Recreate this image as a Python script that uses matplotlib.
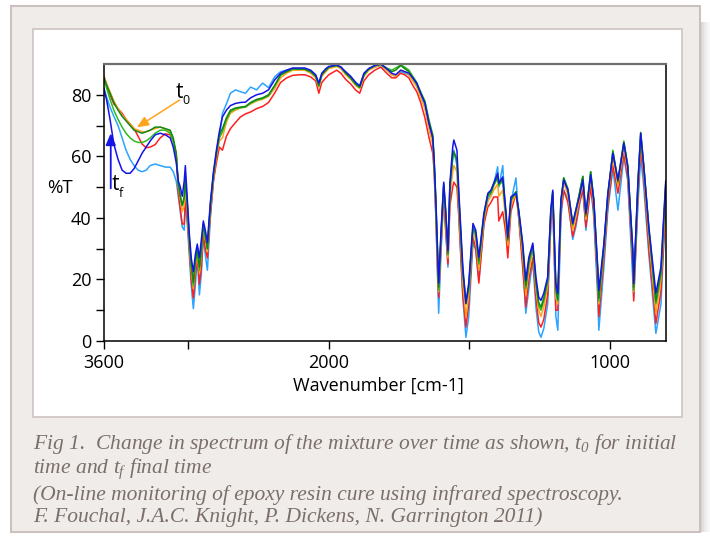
import numpy as np
import matplotlib
matplotlib.use("Agg")
import matplotlib.pyplot as plt
from matplotlib.patches import Rectangle

plt.rcParams['mathtext.fontset'] = 'custom'
plt.rcParams['mathtext.rm'] = 'Liberation Serif:italic'
plt.rcParams['mathtext.it'] = 'Liberation Serif:italic'

# ---------------- data ----------------
wavenumber = [
    3600, 3580, 3557, 3530, 3500, 3471, 3443, 3414, 3386, 3357, 3329, 3300, 3271, 3236, 3200, 3164, 3129, 3107, 3086,
    3071, 3057, 3043, 3029, 3021, 3007, 2993, 2979, 2964, 2950, 2936, 2921, 2907, 2893, 2879, 2864, 2843, 2821, 2800, 2779,
    2757, 2729, 2700, 2664, 2629, 2593, 2557, 2514, 2471, 2429, 2386, 2343, 2300, 2257, 2214, 2171, 2129, 2093, 2071, 2050,
    2021, 2000, 1972, 1957, 1940, 1922, 1904, 1890, 1875, 1858, 1836, 1815, 1794, 1776, 1762, 1744, 1730, 1715, 1701, 1687,
    1673, 1658, 1644, 1630,
    1625, 1619, 1612, 1609, 1601, 1591, 1584, 1576, 1569, 1559, 1555, 1544, 1537, 1523, 1512, 1502, 1487, 1477, 1466, 1448,
    1434, 1423, 1413, 1399, 1395, 1381, 1370, 1363, 1352, 1334, 1324, 1310, 1299, 1288, 1274, 1263, 1253, 1245, 1235, 1221,
    1210, 1203, 1192, 1185, 1174, 1164, 1149, 1132, 1121, 1108, 1096, 1085, 1068, 1057, 1043, 1039, 1021, 1007, 989, 971,
    950, 936, 918, 915, 900, 890, 879, 861, 836, 818, 801]

t_blue = [
    82, 78, 72, 64, 59, 55.5, 54.5, 54.5, 56, 58.5, 61, 63, 65, 67, 67.5, 67, 66, 63, 58,
    52, 50, 47, 52, 57, 46, 35, 27, 22.5, 28, 31.5, 27, 33, 39, 36, 32, 45, 55, 62, 68,
    72.8, 75, 76.5, 77.2, 77.5, 77.6, 79, 80, 80.5, 81.6, 84.8, 87, 88, 88.7, 88.7, 88.7, 88, 86.5, 83.8, 87,
    88.5, 89.2, 89.7, 89, 87.5, 86, 84, 82.9, 87, 88.5, 89.5, 90, 88.5, 87, 86.5, 88, 87.5, 87, 85.5, 83.8,
    80.5, 77.3, 70.8, 66,
    58.8, 45.8, 27.2, 18.8, 35, 51.6, 42.5, 29.5, 51.3, 63, 65.3, 62, 48, 24, 12.2, 18.8, 38.2, 36, 27.2, 41.5,
    48, 49, 51.3, 54.5, 51.3, 53.3, 42.5, 33.7, 46.8, 48, 42.5, 31.8, 19.7, 27.2, 31.8, 20.8, 14.2, 13.2, 15.5, 20.8,
    42.5, 49, 18.7, 15.5, 45.8, 52.3, 49, 38.2, 42.5, 47, 52.3, 41.5, 54, 45.8, 24, 16.5, 31.7, 48, 61, 52.3,
    64.3, 56.6, 29.5, 18.7, 51.3, 67.5, 56.5, 37, 15.5, 24, 52]

t_lightblue = [
    82, 79, 76, 73, 70, 66, 62, 59, 57, 55.5, 55, 55.5, 57, 57.5, 57, 56.5, 56.5, 55, 52,
    47, 42, 37, 36, 45, 38, 28, 18, 10.5, 18, 27, 15, 22, 34, 28, 23, 40, 52, 60, 66,
    74, 77, 80.5, 81.6, 81, 80.5, 82.5, 81.6, 83.8, 82.3, 85.8, 87.5, 88, 88.5, 88.5, 88.5, 87.5, 86, 83.5, 86.5,
    88, 89, 89.5, 88.5, 87, 85.5, 83.5, 82.5, 86.5, 88, 89, 89.5, 88, 86.5, 86, 87.5, 87, 86.5, 85, 83,
    79.5, 76, 69.5, 64.5,
    56, 40, 18, 9, 28, 49, 36, 24, 47, 60, 62, 57, 40, 14, 1.2, 8, 32, 29.5, 19.7, 38,
    46, 48, 51, 56.6, 50, 57, 40, 30, 45, 53, 40, 26, 9, 17, 26, 11, 3, 1.2, 4, 12,
    38, 46, 8, 3.5, 40, 49, 46, 33, 37, 44, 50, 36, 51, 40, 14, 3.5, 24, 42.5, 56, 42.5,
    60, 52, 20, 14.2, 44, 60, 50, 28, 2.5, 12, 45]

t_red = [
    86, 83, 80, 77, 75.5, 74, 72, 70.5, 69, 66.5, 64, 62.8, 63, 63.8, 66, 67.3, 67, 65, 61,
    48, 43, 38, 38, 46, 40, 30, 20, 14, 21, 28, 18.5, 24, 35, 30, 27, 41, 52, 58, 63,
    62, 66.5, 69, 71, 72.8, 73.8, 74.4, 75.5, 76.2, 77.5, 80.5, 84, 85.5, 86.3, 86.5, 86.5, 85.8, 84.5, 80.5, 84,
    85.5, 86.5, 88, 87, 85, 83.5, 81.5, 80.5, 84.5, 86.5, 88, 89, 87, 85.5, 85.5, 87, 86.5, 85.5, 83, 81,
    77.5, 72.5, 66.3, 61,
    55, 41, 20, 14.2, 30, 47, 36, 25, 44, 50, 51.6, 50, 40, 15, 4.5, 12, 33.7, 30, 18.8, 38,
    43.5, 45, 46.8, 46.8, 39, 42, 35, 27, 42, 48, 40, 24, 11, 20, 27, 14, 6, 4.5, 7, 15,
    38, 45, 10, 10, 42, 49, 45, 34, 38, 45, 49, 37, 50, 42, 18, 8, 27, 44, 57, 48,
    61, 53, 24, 13, 47, 63, 53, 30, 5.7, 16, 44]

t_orange = [
    86, 83.5, 81, 78, 75.5, 73.5, 72, 70.5, 69, 68.5, 68, 68, 68.5, 69, 69.5, 69, 68, 65, 60,
    50, 46, 42, 44, 50, 42, 32, 23, 17, 24, 29, 22, 28, 37, 33, 29, 43, 53, 60, 65,
    66, 71, 74, 75, 75.7, 76, 77, 78, 78.5, 79.5, 82, 85.5, 87, 88, 88, 88, 87, 85.5, 82.5, 86,
    87.5, 88.5, 89.2, 88.5, 86.5, 85, 83, 82, 86, 88, 89, 89.7, 88, 86.5, 86, 88, 87.5, 86.5, 84.5, 82.5,
    79, 75.5, 69, 64,
    57, 43, 23, 16, 32, 49, 39, 27, 47, 55, 57, 55, 43, 19, 8, 15, 35.5, 33, 23, 39.5,
    45.5, 47, 49, 51, 47, 49, 39, 31, 44, 48, 41, 28, 15, 23, 29.5, 17, 10, 8, 11, 18,
    40, 47, 14, 12, 44, 51.5, 47.5, 36, 40.5, 46, 51.5, 39.5, 53, 44, 21, 12, 29.5, 46.5, 59.5, 50.5,
    63, 55, 27, 16, 49.5, 65.5, 55, 34, 9, 20, 48]

t_darkgreen = [
    85.5, 83, 80.5, 77.5, 75, 73, 71.5, 70, 68.5, 68, 67.5, 68, 68.5, 69.5, 69.5, 69, 68.5, 66, 61,
    51, 47, 44, 47, 53, 44, 33, 25, 19, 26, 30, 24, 30, 38, 34, 30, 44, 54, 61, 67,
    69, 72.5, 75, 75.7, 76, 76.2, 77.5, 78.5, 79, 80, 83, 86.5, 87.5, 88.5, 88.3, 88.3, 87.5, 86, 83, 86.5,
    88, 89, 89.5, 89, 87, 85.5, 83.5, 82.5, 86.5, 88.5, 89.5, 90, 88.5, 87.5, 88, 89.5, 88.5, 87.5, 85.5, 83.5,
    80.5, 77.5, 71.5, 66.5,
    58, 45, 26, 17.5, 34, 51, 41.5, 28.5, 50.5, 60, 61.5, 59, 46, 22.5, 13, 17.5, 37, 35, 26, 41,
    47.5, 48.5, 51, 53.5, 51, 52.5, 41.5, 33, 46, 48.5, 42, 31, 18, 26, 31, 19.5, 12.5, 11, 14, 20,
    42, 48.5, 17, 13.5, 45.5, 53, 49.5, 38, 42.5, 48, 53.5, 41, 55, 46, 23, 14, 31, 47.5, 61.5, 52,
    64.5, 57, 28.5, 17.5, 51, 67.5, 57, 36.5, 13, 22.5, 51]

t_green = [
    85, 82, 78.5, 75, 72, 69.5, 67.5, 66, 65, 64.5, 64.5, 65, 66, 67.5, 68.5, 68.5, 67.5, 65, 60,
    51, 47, 44, 46, 52, 44, 33, 24, 18, 25, 30, 23, 29, 38, 34, 30, 44, 54, 61, 66,
    68, 72, 74.5, 75.5, 75.8, 76, 77.3, 78.2, 78.8, 79.7, 82.8, 86.3, 87.5, 88.3, 88.3, 88.3, 87.5, 86, 82.8, 86.5,
    88, 89, 89.5, 89, 87, 85.3, 83.3, 82.3, 86.3, 88.3, 89.5, 89.8, 88.7, 88, 88.7, 89.7, 89, 88, 86, 84,
    81, 78, 72, 67,
    58, 44.5, 25, 16.5, 33, 50.5, 41, 28, 50, 59.5, 61, 58.5, 45.5, 21.5, 12, 16.5, 36.5, 34.5, 25, 40.5,
    47, 48, 50.5, 53, 50.5, 52, 41, 32.5, 45.5, 48.5, 41.5, 30, 17, 25, 30.5, 18.5, 11.5, 10, 13, 19.5,
    41.5, 48, 16, 13, 45, 53, 49, 37.5, 42, 48, 53.5, 40.5, 55, 45.5, 22, 13, 30.5, 47, 62, 51.5,
    65, 56.5, 28, 16.5, 50.5, 67.8, 56.5, 36, 12, 21.5, 50]

x_ticks = [3600, 3000, 2000, 1500, 1000]
x_ticklabels = ['3600', '', '2000', '', '1000']
y_ticks = [0, 10, 20, 30, 40, 50, 60, 70, 80]
y_ticklabels = ['0', '', '20', '', '40', '', '60', '', '80']

series = [
    (t_lightblue, '#2ba3ff'),
    (t_red, '#ff1f1f'),
    (t_orange, '#ffa41c'),
    (t_green, '#2dbb1e'),
    (t_darkgreen, '#13861a'),
    (t_blue, '#1414e6'),
]

# ---------------- figure ----------------
W, H = 710, 538
fig = plt.figure(figsize=(W / 100, H / 100), dpi=100)
fig.patch.set_facecolor('white')


def fx(px):
    return px / W


def fy(py):
    return 1 - py / H


# right shadow of panel
for i, a in enumerate([0.28, 0.2, 0.13, 0.08, 0.04]):
    fig.patches.append(Rectangle((fx(700 + i * 2), fy(532)), fx(2), (532 - 22) / H,
                                 transform=fig.transFigure, fc='#6e625e', ec='none',
                                 alpha=a, zorder=-10))
fig.patches.append(Rectangle((fx(11), fy(532)), (700 - 11) / W, (532 - 6) / H,
                             transform=fig.transFigure, fc='#f0ecea', ec='#cbc1bf',
                             lw=1.5, zorder=-9))
fig.patches.append(Rectangle((fx(33), fy(417)), (682 - 33) / W, (417 - 29) / H,
                             transform=fig.transFigure, fc='white', ec='#cdc4c2',
                             lw=1.2, zorder=-8))

ax = fig.add_axes([fx(104), fy(341), (666 - 104) / W, (341 - 64) / H])
ax.set_zorder(2)
ax.set_facecolor('none')


def fwd(w):
    w = np.asarray(w, dtype=float)
    return np.where(w > 2000, 2000 + (w - 2000) / 2.0, w)


def inv(u):
    u = np.asarray(u, dtype=float)
    return np.where(u > 2000, 2000 + (u - 2000) * 2.0, u)


ax.set_xscale('function', functions=(fwd, inv))

for vals, col in series:
    ax.plot(wavenumber, vals, color=col, lw=1.1, solid_joinstyle='round')

ax.set_xlim(3600, 800)
ax.set_ylim(0, 90)
ax.set_xticks(x_ticks)
ax.set_xticklabels(x_ticklabels)
ax.set_yticks(y_ticks)
ax.set_yticklabels(y_ticklabels)
ax.minorticks_off()
ax.tick_params(direction='out', length=6, width=1, labelsize=13, pad=3, colors='black')
for lab in ax.get_xticklabels() + ax.get_yticklabels():
    lab.set_fontfamily('Open Sans')
for s in ['left', 'bottom', 'right']:
    ax.spines[s].set_color('black')
    ax.spines[s].set_linewidth(1.1)
ax.spines['top'].set_color('#6f6f6f')
ax.spines['top'].set_linewidth(1.6)

# axis labels
fig.text(fx(378), fy(386), 'Wavenumber [cm-1]', ha='center', va='center',
         fontsize=13, family='Open Sans', zorder=3)
fig.text(fx(60), fy(188), '%T', ha='center', va='center', fontsize=13.5,
         family='Open Sans', zorder=3)

# annotations t0 / tf
ax.annotate('', xy=(3366, 69.4), xytext=(3062, 78.3),
            arrowprops=dict(arrowstyle='-|>,head_length=0.7,head_width=0.3',
                            color='#ffa41c', lw=1.1, shrinkA=0, shrinkB=0))
ax.text(3064, 80.8, 't', fontsize=15, family='Open Sans', ha='center', va='center')
ax.text(3018, 78.2, '0', fontsize=9, family='Open Sans', ha='center', va='center')
ax.annotate('', xy=(3552, 67.5), xytext=(3552, 49.6),
            arrowprops=dict(arrowstyle='-|>,head_length=0.7,head_width=0.3',
                            color='#1414e6', lw=1.3, shrinkA=0, shrinkB=0))
ax.text(3518, 50.7, 't', fontsize=15, family='Open Sans', ha='center', va='center')
ax.text(3479, 48.0, 'f', fontsize=9, family='Open Sans', ha='center', va='center')

# caption
cap_color = '#7b6f6a'
cap_lines = [
    (449, r'Fig 1.  Change in spectrum of the mixture over time as shown, $t_0$ for initial'),
    (473, r'time and $t_f$ final time'),
    (500, '(On-line monitoring of epoxy resin cure using infrared spectroscopy.'),
    (522, 'F. Fouchal, J.A.C. Knight, P. Dickens, N. Garrington 2011)'),
]
for py, txt in cap_lines:
    fig.text(fx(33), fy(py), txt, ha='left', va='baseline', fontsize=15.5,
             family='Liberation Serif', style='italic', color=cap_color, zorder=3)

fig.savefig('out.png', dpi=100)
